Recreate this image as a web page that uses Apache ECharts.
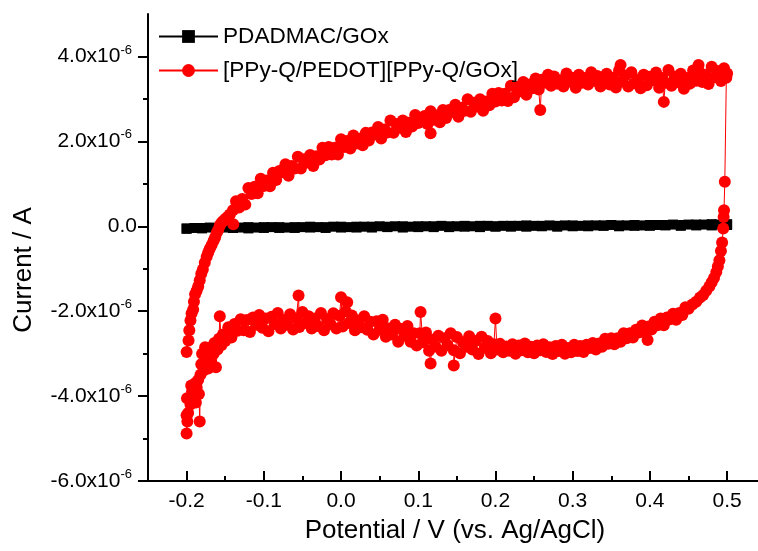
<!DOCTYPE html>
<html>
<head>
<meta charset="utf-8">
<script src="https://cdn.jsdelivr.net/npm/echarts@6/dist/echarts.min.js"></script>
<style>
  html, body { margin: 0; padding: 0; background: #fff; }
  #chart { width: 758px; height: 551px; }
</style>
</head>
<body>
<div id="chart"></div>
<script>
// Cyclic voltammograms, potential in V, current in units of 1e-6 A.
const seriesNames = ['PDADMAC/GOx', '[PPy-Q/PEDOT][PPy-Q/GOx]'];

// PDADMAC/GOx: forward and reverse sweep (almost no current)
const blankForward = [
  [-0.20,-0.05],[-0.19,-0.04],[-0.18,-0.04],[-0.17,-0.03],[-0.16,-0.04],[-0.15,-0.03],[-0.14,-0.03],[-0.13,-0.03],
  [-0.12,-0.02],[-0.11,-0.03],[-0.10,-0.02],[-0.09,-0.02],[-0.08,-0.02],[-0.07,-0.03],[-0.06,-0.02],[-0.05,-0.02],
  [-0.04,-0.01],[-0.03,-0.02],[-0.02,-0.02],[-0.01,-0.01],[0.00,-0.01],[0.01,-0.02],[0.02,-0.01],[0.03,-0.01],
  [0.04,-0.01],[0.05,0.00],[0.06,-0.01],[0.07,0.00],[0.08,0.00],[0.09,-0.01],[0.10,0.00],[0.11,0.00],
  [0.12,0.00],[0.13,0.01],[0.14,0.00],[0.15,0.00],[0.16,0.01],[0.17,0.00],[0.18,0.01],[0.19,0.01],
  [0.20,0.00],[0.21,0.01],[0.22,0.01],[0.23,0.01],[0.24,0.02],[0.25,0.01],[0.26,0.01],[0.27,0.02],
  [0.28,0.01],[0.29,0.02],[0.30,0.02],[0.31,0.01],[0.32,0.02],[0.33,0.02],[0.34,0.02],[0.35,0.03],
  [0.36,0.02],[0.37,0.02],[0.38,0.03],[0.39,0.02],[0.40,0.03],[0.41,0.03],[0.42,0.03],[0.43,0.04],
  [0.44,0.03],[0.45,0.04],[0.46,0.04],[0.47,0.04],[0.48,0.05],[0.49,0.04],[0.50,0.05]
];
const blankReverse = [
  [0.50,0.03],[0.48,0.02],[0.46,0.02],[0.44,0.01],[0.42,0.02],[0.40,0.01],[0.38,0.01],[0.36,0.00],
  [0.34,0.01],[0.32,0.00],[0.30,0.00],[0.28,-0.01],[0.26,0.00],[0.24,-0.01],[0.22,-0.01],[0.20,-0.01],
  [0.18,-0.02],[0.16,-0.01],[0.14,-0.02],[0.12,-0.02],[0.10,-0.02],[0.08,-0.03],[0.06,-0.02],[0.04,-0.03],
  [0.02,-0.03],[0.00,-0.03],[-0.02,-0.04],[-0.04,-0.03],[-0.06,-0.04],[-0.08,-0.04],[-0.10,-0.04],[-0.12,-0.05],
  [-0.14,-0.04],[-0.16,-0.05],[-0.18,-0.05],[-0.20,-0.06]
];

// [PPy-Q/PEDOT][PPy-Q/GOx]: anodic sweep from -0.2 V to 0.5 V
const anodicSweep = [
  [-0.200,-2.96],[-0.1975,-2.69],[-0.1965,-2.45],[-0.195,-2.22],[-0.1935,-2.05],[-0.1915,-1.96],[-0.1905,-1.78],
  [-0.189,-1.60],[-0.187,-1.52],[-0.185,-1.42],[-0.183,-1.27],[-0.181,-1.12],[-0.179,-1.02],[-0.1765,-0.86],
  [-0.174,-0.72],[-0.172,-0.62],[-0.170,-0.53],[-0.1675,-0.44],[-0.165,-0.34],[-0.163,-0.26],[-0.161,-0.15],
  [-0.159,-0.08],[-0.157,0.02],[-0.155,0.08],[-0.153,0.12],[-0.150,0.17],[-0.147,0.22],[-0.144,0.28],
  [-0.1395,0.05],[-0.140,0.38],
  [-0.136,0.59],[-0.132,0.44],[-0.128,0.64],[-0.124,0.51],[-0.120,0.90],[-0.116,0.76],[-0.112,0.93],
  [-0.108,0.78],[-0.104,1.12],[-0.100,0.95],[-0.096,1.08],[-0.092,0.94],[-0.088,1.26],[-0.084,1.09],
  [-0.080,1.30],[-0.076,1.27],[-0.072,1.46],[-0.068,1.19],[-0.064,1.42],[-0.060,1.36],[-0.056,1.64],
  [-0.052,1.36],[-0.048,1.58],[-0.044,1.50],[-0.040,1.68],[-0.036,1.42],[-0.032,1.65],[-0.028,1.57],
  [-0.024,1.85],[-0.020,1.67],[-0.016,1.87],[-0.012,1.69],[-0.008,1.85],[-0.004,1.69],[0.000,2.05],
  [0.004,1.87],[0.008,2.01],[0.012,1.83],[0.016,2.14],[0.020,1.95],[0.024,2.06],[0.028,1.91],
  [0.032,2.20],[0.036,2.02],[0.040,2.21],[0.044,2.17],[0.048,2.34],[0.052,2.07],[0.056,2.28],
  [0.060,2.21],[0.064,2.49],[0.068,2.20],[0.072,2.41],[0.076,2.32],[0.080,2.49],[0.084,2.22],
  [0.088,2.44],[0.092,2.35],[0.096,2.62],[0.100,2.43],[0.104,2.47],[0.108,2.60],[0.112,2.41],
  [0.116,2.71],[0.116,2.19],[0.120,2.51],[0.124,2.61],[0.128,2.45],[0.132,2.74],[0.136,2.55],
  [0.140,2.74],[0.144,2.69],[0.148,2.86],[0.152,2.58],[0.156,2.79],[0.160,2.72],[0.164,2.99],
  [0.168,2.70],[0.172,2.91],[0.176,2.82],[0.180,2.99],[0.184,2.72],[0.188,2.94],[0.192,2.85],
  [0.196,3.12],[0.200,2.94],[0.204,3.14],[0.208,2.96],[0.212,3.12],[0.216,2.95],[0.220,3.31],
  [0.224,3.04],[0.228,3.28],[0.232,3.18],[0.236,3.40],[0.240,3.10],[0.244,3.34],[0.248,3.25],
  [0.252,3.48],[0.256,3.22],[0.258,2.74],[0.260,3.45],[0.264,3.38],[0.268,3.57],[0.272,3.31],
  [0.276,3.53],[0.280,3.36],[0.284,3.44],[0.288,3.29],[0.292,3.60],[0.296,3.41],[0.300,3.50],
  [0.304,3.26],[0.308,3.57],[0.312,3.38],[0.316,3.49],[0.320,3.34],[0.324,3.63],[0.328,3.43],
  [0.332,3.54],[0.336,3.29],[0.340,3.50],[0.344,3.59],[0.348,3.34],[0.352,3.50],[0.356,3.27],
  [0.360,3.67],[0.362,3.80],[0.364,3.41],[0.368,3.55],[0.372,3.29],[0.376,3.63],[0.380,3.37],
  [0.384,3.46],[0.388,3.25],[0.392,3.57],[0.396,3.32],[0.400,3.52],[0.404,3.44],[0.408,3.62],
  [0.412,3.26],[0.416,3.49],[0.418,2.93],[0.420,3.38],[0.424,3.68],[0.428,3.31],[0.432,3.53],
  [0.436,3.40],[0.440,3.59],[0.444,3.24],[0.448,3.49],[0.452,3.36],[0.456,3.67],[0.460,3.43],
  [0.463,3.80],[0.464,3.64],[0.468,3.40],[0.472,3.57],[0.476,3.35],[0.480,3.76],[0.484,3.51],
  [0.488,3.66],[0.492,3.42],[0.496,3.72],[0.500,3.60],[0.499,3.50]
];

// cathodic sweep from 0.5 V back to -0.2 V
const cathodicSweep = [
  [0.497,1.05],[0.496,0.38],[0.4955,0.22],[0.495,-0.05],[0.4935,-0.38],[0.492,-0.58],[0.490,-0.80],
  [0.488,-0.95],[0.486,-1.08],[0.483,-1.22],[0.480,-1.32],[0.477,-1.42],[0.473,-1.52],[0.469,-1.62],
  [0.465,-1.68],[0.460,-1.78],[0.455,-1.84],[0.450,-1.94],
  [0.446,-1.91],[0.442,-2.09],[0.438,-2.04],[0.434,-2.20],[0.430,-2.06],[0.426,-2.19],[0.422,-2.15],
  [0.418,-2.33],[0.414,-2.17],[0.410,-2.33],[0.406,-2.25],[0.402,-2.43],[0.398,-2.36],[0.397,-2.68],
  [0.394,-2.47],[0.390,-2.34],[0.386,-2.50],[0.382,-2.44],[0.378,-2.62],[0.374,-2.52],[0.370,-2.64],
  [0.366,-2.52],[0.362,-2.72],[0.358,-2.64],[0.354,-2.78],[0.350,-2.64],[0.346,-2.77],[0.342,-2.65],
  [0.338,-2.84],[0.334,-2.76],[0.330,-2.90],[0.326,-2.75],[0.322,-2.87],[0.318,-2.79],[0.314,-2.96],
  [0.310,-2.82],[0.306,-2.94],[0.302,-2.79],[0.298,-2.97],[0.294,-2.87],[0.290,-3.00],[0.286,-2.79],
  [0.282,-2.94],[0.278,-2.82],[0.274,-3.01],[0.270,-2.85],[0.266,-2.96],[0.262,-2.78],[0.258,-2.92],
  [0.254,-2.81],[0.250,-2.99],[0.246,-2.84],[0.242,-2.97],[0.238,-2.76],[0.234,-2.92],[0.230,-2.81],
  [0.226,-3.00],[0.222,-2.78],[0.218,-2.93],[0.214,-2.83],[0.210,-2.97],[0.206,-2.77],[0.202,-2.90],
  [0.200,-2.17],[0.198,-2.78],[0.194,-2.99],[0.190,-2.70],[0.186,-2.86],[0.182,-2.60],[0.178,-3.01],
  [0.174,-2.70],[0.170,-2.90],[0.166,-2.59],[0.162,-2.84],[0.158,-2.73],[0.154,-2.99],[0.150,-2.61],
  [0.146,-3.28],[0.146,-2.92],[0.142,-2.52],[0.138,-2.80],[0.134,-2.64],[0.130,-2.93],[0.126,-2.58],
  [0.122,-2.83],[0.118,-2.67],[0.116,-3.23],[0.114,-2.93],[0.110,-2.50],[0.106,-2.73],[0.103,-2.02],
  [0.102,-2.52],[0.098,-2.81],[0.094,-2.52],[0.090,-2.72],[0.086,-2.35],[0.082,-2.58],[0.078,-2.42],
  [0.074,-2.72],[0.070,-2.32],[0.066,-2.55],[0.062,-2.41],[0.058,-2.60],[0.054,-2.20],[0.050,-2.44],
  [0.046,-2.24],[0.042,-2.55],[0.038,-2.25],[0.034,-2.44],[0.030,-2.12],[0.026,-2.38],[0.022,-2.22],
  [0.018,-2.45],[0.014,-2.10],[0.010,-2.28],[0.008,-1.79],[0.006,-2.00],[0.002,-2.36],[0.000,-1.67],
  [-0.002,-2.11],[-0.006,-2.41],[-0.010,-2.05],[-0.014,-2.30],[-0.018,-2.19],[-0.022,-2.45],[-0.026,-2.04],
  [-0.030,-2.35],[-0.034,-2.17],[-0.038,-2.41],[-0.042,-2.12],[-0.046,-2.28],[-0.050,-2.02],[-0.054,-2.37],
  [-0.055,-1.63],[-0.058,-2.17],[-0.062,-2.43],[-0.066,-2.07],[-0.070,-2.32],[-0.074,-2.21],[-0.078,-2.41],
  [-0.082,-2.04],[-0.086,-2.30],[-0.090,-2.13],[-0.094,-2.47],[-0.098,-2.17],[-0.102,-2.39],[-0.106,-2.09],
  [-0.110,-2.32],[-0.114,-2.15],[-0.118,-2.49],[-0.122,-2.21],[-0.126,-2.45],[-0.130,-2.19],[-0.134,-2.46],
  [-0.138,-2.30],[-0.142,-2.62],[-0.146,-2.38],
  [-0.150,-2.70],[-0.153,-2.55],[-0.155,-2.80],[-0.157,-2.12],[-0.158,-2.65],[-0.160,-2.90],[-0.162,-3.32],
  [-0.164,-2.75],[-0.165,-3.00],[-0.168,-2.85],[-0.170,-3.20],[-0.172,-3.35],[-0.173,-3.05],[-0.175,-3.15],
  [-0.176,-2.85],[-0.178,-3.40],[-0.180,-3.00],[-0.181,-3.25],[-0.182,-3.50],[-0.183,-4.60],[-0.184,-3.95],
  [-0.185,-3.62],[-0.187,-3.80],[-0.188,-4.15],[-0.189,-3.70],[-0.191,-4.00],[-0.193,-3.90],[-0.194,-3.75],
  [-0.195,-4.20],[-0.196,-4.05],[-0.198,-4.40],[-0.199,-4.60],[-0.200,-4.88],[-0.200,-4.45],[-0.1995,-4.05]
];

// axis ticks
const xMajorTicks = [-0.2, -0.1, 0.0, 0.1, 0.2, 0.3, 0.4, 0.5];
const xMinorTicks = [-0.15, -0.05, 0.05, 0.15, 0.25, 0.35, 0.45];
const yMajorTicks = [-6, -4, -2, 0, 2, 4];
const yMinorTicks = [-5, -3, -1, 1, 3];

const FONT = '"Liberation Sans", Arial, Helvetica, sans-serif';

const chart = echarts.init(document.getElementById('chart'), null, { renderer: 'canvas' });

const xBase = {
  type: 'value', min: -0.25, max: 0.54, gridIndex: 0,
  splitLine: { show: false },
  axisLine: { onZero: false, lineStyle: { color: '#000', width: 2 } }
};
const yBase = {
  type: 'value', min: -6, max: 5, gridIndex: 0, position: 'left',
  splitLine: { show: false },
  axisLine: { onZero: false, lineStyle: { color: '#000', width: 2 } }
};

chart.setOption({
  animation: false,
  backgroundColor: '#fff',
  grid: { left: 148, right: 0, top: 14, bottom: 70, containLabel: false },
  legend: {
    orient: 'vertical', left: 158, top: 25, padding: 0,
    itemWidth: 59, itemHeight: 16, itemGap: 11,
    textStyle: { fontFamily: FONT, fontSize: 22.6, color: '#000' },
    data: seriesNames
  },
  xAxis: [
    Object.assign({}, xBase, {
      axisTick: { show: true, inside: true, length: 10, lineStyle: { color: '#000', width: 2 }, customValues: xMajorTicks },
      axisLabel: {
        show: true, margin: 10, color: '#000', fontFamily: FONT, fontSize: 21,
        customValues: xMajorTicks,
        formatter: v => v.toFixed(1)
      }
    }),
    Object.assign({}, xBase, {
      position: 'bottom',
      axisLine: { show: false, onZero: false },
      axisTick: { show: true, inside: true, length: 5, lineStyle: { color: '#000', width: 2 }, customValues: xMinorTicks },
      axisLabel: { show: false }
    })
  ],
  yAxis: [
    Object.assign({}, yBase, {
      axisTick: { show: true, inside: false, length: 10, lineStyle: { color: '#000', width: 2 }, customValues: yMajorTicks },
      axisLabel: {
        show: true, margin: 11, color: '#000',
        customValues: yMajorTicks,
        formatter: v => v === 0 ? '{m|0.0}' : '{m|' + v.toFixed(1) + 'x10}{s|-6}',
        rich: {
          m: { fontFamily: FONT, fontSize: 21, color: '#000', lineHeight: 26 },
          s: { fontFamily: FONT, fontSize: 13, color: '#000', lineHeight: 14, verticalAlign: 'top', padding: [0, 5, 0, 0] }
        }
      }
    }),
    Object.assign({}, yBase, {
      axisLine: { show: false, onZero: false },
      axisTick: { show: true, inside: false, length: 5, lineStyle: { color: '#000', width: 2 }, customValues: yMinorTicks },
      axisLabel: { show: false }
    })
  ],
  graphic: [
    {
      type: 'text', x: 455, y: 531,
      style: { text: 'Potential / V (vs. Ag/AgCl)', font: '26px ' + FONT, fill: '#000', textAlign: 'center', textVerticalAlign: 'middle' }
    },
    {
      type: 'text', x: 24, y: 270, rotation: Math.PI / 2,
      style: { text: 'Current / A', font: '26px ' + FONT, fill: '#000', textAlign: 'center', textVerticalAlign: 'middle' }
    }
  ],
  series: [
    {
      name: seriesNames[0], type: 'line', xAxisIndex: 0, yAxisIndex: 0,
      data: blankForward.concat(blankReverse),
      symbol: 'rect', symbolSize: 10, showSymbol: true, showAllSymbol: true,
      itemStyle: { color: '#000' },
      lineStyle: { color: '#000', width: 1 },
      z: 2
    },
    {
      name: seriesNames[1], type: 'line', xAxisIndex: 0, yAxisIndex: 0,
      data: anodicSweep.concat(cathodicSweep),
      symbol: 'circle', symbolSize: 12, showSymbol: true, showAllSymbol: true,
      itemStyle: { color: '#ff0000' },
      lineStyle: { color: '#ff0000', width: 1 },
      z: 3
    }
  ]
});
</script>
</body>
</html>
